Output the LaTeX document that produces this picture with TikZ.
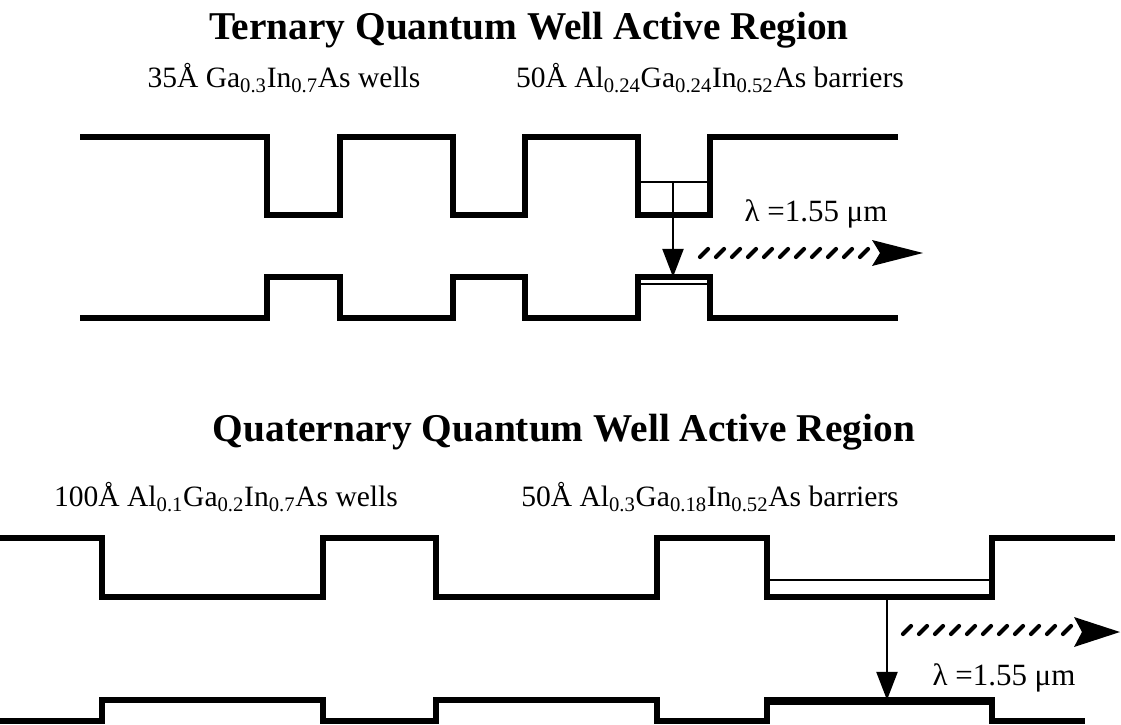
\documentclass[tikz,border=0pt]{standalone}
\usepackage{fontspec}
\setmainfont{Liberation Serif}
\usetikzlibrary{positioning, arrows.meta}
\newcommand\sbs[1]{\textsubscript{#1}}

\begin{document}
\begin{tikzpicture}[x=0.025cm, y=-0.025cm,
    band/.style = {line width=4pt, line join=miter},
    level/.style = {line width=2pt},
    trans/.style = {line width=1.4pt, -{Triangle[length=20pt, width=15pt]}},
    photon/.style = {line width=3pt, line cap=round},
    title/.style = {font=\bfseries\fontsize{28}{32}\selectfont},
    lbl/.style = {font=\fontsize{21}{24}\selectfont},
    lam/.style = {font=\fontsize{22}{26}\selectfont}]
    \useasboundingbox (0,0) rectangle (1121,725);

    % ternary wells
    \node[title] (tern) at (529,30) {Ternary Quantum Well Active Region};
    \node[lbl] (ternw) at (284,78) {35Å Ga\sbs{0.3}In\sbs{0.7}As wells};
    \node[lbl] (ternb) at (710,78) {50Å Al\sbs{0.24}Ga\sbs{0.24}In\sbs{0.52}As barriers};

    \draw[band] (80,137) -| (267,215) -| (340,137) -| (453,215) -| (525,137) -| (638,215) -| (710,137) -- (898,137);
    \draw[band] (80,318) -| (267,277) -| (340,318) -| (453,277) -| (525,318) -| (638,277) -| (710,318) -- (898,318);
    \draw[level] (638,182) -- (710,182);
    \draw[level] (638,284) -- (710,284);

    \coordinate (e1) at (673,182);
    \coordinate (h1) at (673,277);
    \draw[trans] (e1) -- (h1);

    \node[lam] (lam1) at (816,214) {λ =1.55 μm};
    \foreach \i in {0,...,10}
        \draw[photon] ({700+\i*16},257) -- ++(8,-8);
    \fill (872,240) -- (923,253) -- (872,266) -- (880,253) -- cycle;

    % quaternary wells
    \node[title] (quat) at (564,432) {Quaternary Quantum Well Active Region};
    \node[lbl] (quatw) at (226,497) {100Å Al\sbs{0.1}Ga\sbs{0.2}In\sbs{0.7}As wells};
    \node[lbl] (quatb) at (710,497) {50Å Al\sbs{0.3}Ga\sbs{0.18}In\sbs{0.52}As barriers};

    \draw[band] (0,538) -| (102,597) -| (323,538) -| (436,597) -| (657,538) -| (767,597) -| (992,538) -- (1115,538);
    \draw[band] (0,721) -| (102,700) -| (323,721) -| (436,700) -| (657,721) -| (767,700) -| (992,721) -- (1085,721);
    \draw[level] (767,580) -- (992,580);
    \draw[level] (767,704) -- (992,704);

    \coordinate (e2) at (887,597);
    \coordinate (h2) at (887,700);
    \draw[trans] (e2) -- (h2);

    \foreach \i in {0,...,10}
        \draw[photon] ({903+\i*16},634) -- ++(8,-8);
    \fill (1074,617) -- (1120,632) -- (1074,647) -- (1082,632) -- cycle;
    \node[lam] (lam2) at (1004,678) {λ =1.55 μm};
\end{tikzpicture}
\end{document}
